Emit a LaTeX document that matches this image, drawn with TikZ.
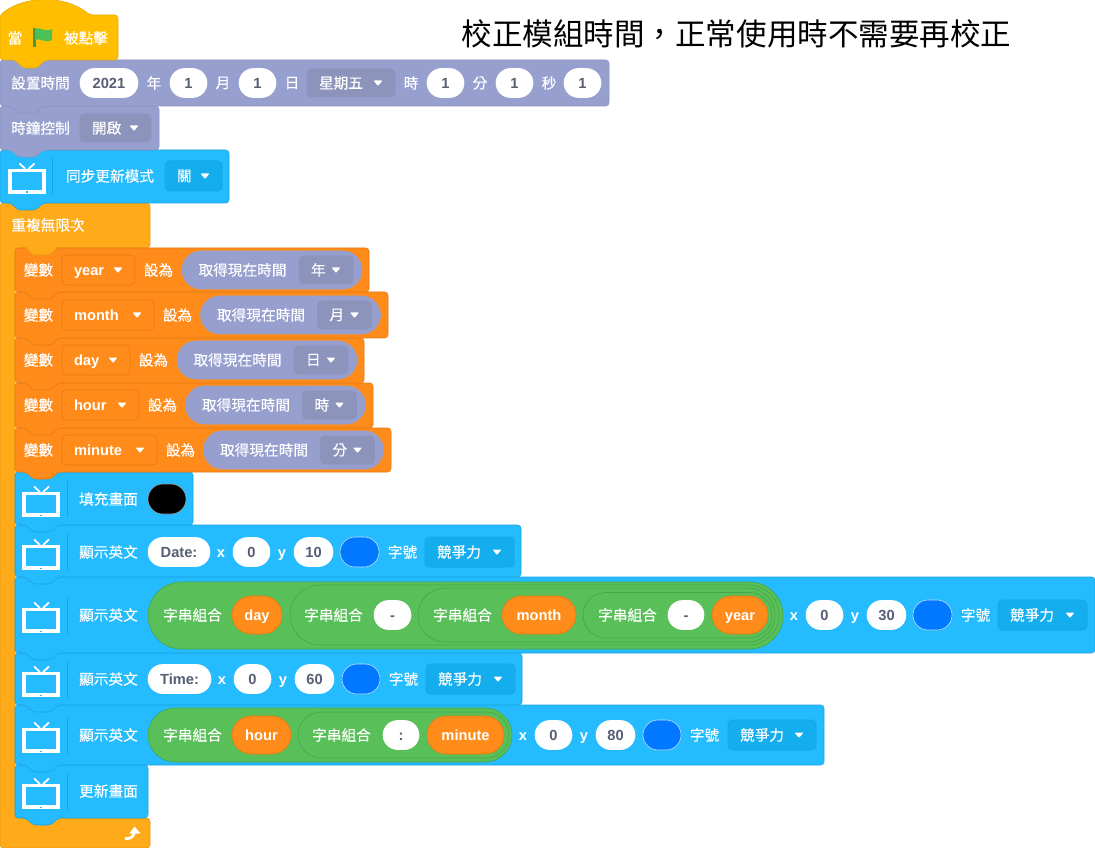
\documentclass[tikz,border=0pt]{standalone}
\usepackage{fontspec}
\newfontfamily\cjk{Noto Sans CJK TC}
\newfontfamily\cjkb[FakeBold=0.25]{Noto Sans CJK TC}
\newfontfamily\lat{Liberation Sans}
\definecolor{hatc}{HTML}{FFBF00}\definecolor{hats}{HTML}{E6AC00}
\definecolor{purp}{HTML}{979FCF}\definecolor{purd}{HTML}{8C94BC}\definecolor{purs}{HTML}{8C94C4}
\definecolor{blu}{HTML}{24BBFF}\definecolor{blud}{HTML}{14ADEE}\definecolor{blus}{HTML}{1AA5E0}
\definecolor{loopc}{HTML}{FFAB19}\definecolor{loops}{HTML}{E89A14}
\definecolor{org}{HTML}{FF8C1A}\definecolor{orgs}{HTML}{E57A0F}
\definecolor{grn}{HTML}{59C059}\definecolor{grns}{HTML}{46A546}
\definecolor{ftxt}{HTML}{575E75}\definecolor{pick}{HTML}{0078FF}\definecolor{flagc}{HTML}{4CBF56}\definecolor{flags}{HTML}{45993D}
\newcounter{nd}
\tikzset{
 txt/.style={inner sep=0pt,outer sep=0pt,text=white,font=\fontsize{11}{13}\cjkb},
 ltxt/.style={inner sep=0pt,outer sep=0pt,text=white,text height=7.9pt,text depth=0pt,font=\fontsize{11}{13}\lat\bfseries},
 ftx/.style={inner sep=0pt,outer sep=0pt,text=ftxt,text height=7.9pt,text depth=0pt,font=\fontsize{11}{13}\lat\bfseries},
 edge/.style={line width=.45pt,rounded corners=2.5pt},
}
% fill stroke x1 y1 x2 y2
\newcommand\blk[6]{\draw[edge,fill=#1,draw=#2] (#3,#4) -- (#5,#4) -- (#5,#6) -- ({#3+43},#6) -- ({#3+36},{#6+7}) -- ({#3+18},{#6+7}) -- ({#3+11},#6) -- (#3,#6) -- cycle;}
% text x1 x2 y text
\newcommand\wt[4]{\stepcounter{nd}\node[txt] (n\arabic{nd}) at ({(#1+#2)/2},#3) {#4};}
\newcommand\wl[4]{\stepcounter{nd}\node[ltxt] (n\arabic{nd}) at ({(#1+#2)/2},#3) {#4};}
% pill fill stroke x1 y1 x2 y2
\newcommand\pill[6]{\pgfmathsetmacro\rr{((#6)-(#4))*0.375}\draw[line width=.45pt,fill=#1,draw=#2,rounded corners=\rr pt] (#3,{#4}) rectangle (#5,{#6});}
% white field x1 x2 y text
\newcommand\fld[4]{\pill{white}{white}{#1}{#3-14.5}{#2}{#3+14.5}\stepcounter{nd}\node[ftx] (n\arabic{nd}) at ({(#1+#2)/2},#3) {#4};}
% orange variable pill x1 x2 y text
\newcommand\ovar[4]{\pill{org}{orgs}{#1}{#3-19}{#2}{#3+19}\wl{#1}{#2}{#3}{#4}}
\newcommand\colr[3]{\pill{pick}{white!75!pick}{#1}{#3-15}{#2}{#3+15}}
% dropdown fill stroke x1 x2 y halfh textstyle text
\newcommand\dd[8]{\draw[line width=.45pt,fill=#1,draw=#2,rounded corners=3pt] ({#3},{#5-#6}) rectangle ({#4},{#5+#6});
 \stepcounter{nd}\node[#7,anchor=west] (n\arabic{nd}) at ({#3+12},#5) {#8};
 \fill[white,rounded corners=.6pt] ({#4-21.5},{#5-2.5}) -- ({#4-12.5},{#5-2.5}) -- ({#4-17},{#5+3}) -- cycle;}
% tv icon: x (left) y (text centre)
\newcommand\tv[3]{\draw[white,line width=1.3pt] ({#1+18},{#2-7}) -- ({#1+12},{#2-12.5}) ({#1+21},{#2-7}) -- ({#1+27},{#2-12.5});
 \fill[white] (#1,{#2-7}) rectangle ({#1+38},{#2+18.3});
 \fill[#3] ({#1+4},{#2-4}) rectangle ({#1+34},{#2+14.3});
 \fill[#3] ({#1+18},{#2+15.5}) rectangle ({#1+20},{#2+17});
 \draw[blus,line width=.35pt] ({#1+45},{#2-18}) -- ({#1+45},{#2+18.5});}
% variable row y name ddright wordx repx unit
\newcommand\varrow[6]{\wt{24}{53}{#1}{變數}
 \dd{org}{orgs}{62}{#3}{#1}{15}{ltxt}{#2}
 \wt{#4}{#4+29}{#1}{設為}
 \pill{purp}{purp}{#5}{#1-19}{#5+180}{#1+19}
 \wt{#5+16}{#5+105}{#1}{取得現在時間}
 \dd{purd}{purd}{#5+117}{#5+171}{#1}{14}{txt}{#6}}
\begin{document}
\begin{tikzpicture}[x=0.75pt,y=-0.75pt]
\useasboundingbox (0,0) rectangle (1095,848);
% loop C-shape
\draw[edge,fill=loopc,draw=loops] (0,203) -- (150,203) -- (150,248) -- (15,248) -- (15,818) -- (150,818) -- (150,848) -- (0,848) -- cycle;
% inner stack, bottom up
\blk{blu}{blus}{15}{765}{148}{818}
\blk{blu}{blus}{15}{705}{824}{765}
\blk{blu}{blus}{15}{653}{522}{705}
\blk{blu}{blus}{15}{577}{1095}{653}
\blk{blu}{blus}{15}{525}{521}{577}
\blk{blu}{blus}{15}{472}{193}{525}
\blk{org}{orgs}{15}{428}{391}{472}
\blk{org}{orgs}{15}{383}{373}{428}
\blk{org}{orgs}{15}{338}{364}{383}
\blk{org}{orgs}{15}{292}{388}{338}
\blk{org}{orgs}{15}{248}{369}{292}
% loop tab over first inner block
\fill[loopc] (25,246) -- (33,255) -- (50,255) -- (58,246) -- cycle;
\draw[edge,draw=loops] (25,248) -- (33,255) -- (50,255) -- (58,248);
% outer stack, bottom up
\blk{blu}{blus}{0}{150}{229}{203}
\blk{purp}{purs}{0}{106}{159}{150}
\blk{purp}{purs}{0}{60}{609}{106}
\draw[edge,fill=hatc,draw=hats] (0,15) .. controls (25,-5) and (65,-5) .. (90,15) -- (118,15) -- (118,60) -- (45,60) -- (37,68) -- (23,68) -- (15,60) -- (0,60) -- cycle;
% hat
\wt{8}{22}{38}{當}
\draw[flags,line width=1.6pt] (34.5,28) -- (34.5,47);
\fill[flagc] (35,29) .. controls (40,26) and (44,33) .. (52,29) -- (52,40) .. controls (44,44) and (40,37) .. (35,40) -- cycle;
\wt{64}{108}{38}{被點擊}
% set time
\wt{11}{70}{83}{設置時間}
\fld{80}{138}{83}{2021}
\wt{147}{161}{83}{年}
\fld{170}{207}{83}{1}
\wt{216}{230}{83}{月}
\fld{239}{276}{83}{1}
\wt{285}{299}{83}{日}
\dd{purd}{purd}{307}{395}{83}{14}{txt}{星期五}
\wt{404}{418}{83}{時}
\fld{427}{464}{83}{1}
\wt{473}{487}{83}{分}
\fld{496}{533}{83}{1}
\wt{542}{556}{83}{秒}
\fld{564}{601}{83}{1}
% clock
\wt{11}{70}{128}{時鐘控制}
\dd{purd}{purd}{80}{151}{128}{14}{txt}{開啟}
% sync
\tv{7.5}{176}{blu}
\wt{65}{155}{176}{同步更新模式}
\dd{blud}{blus}{165}{222}{176}{15}{txt}{關}
% loop
\wt{11}{85}{225}{重複無限次}
\draw[white,line width=2pt] (125,838.5) .. controls (130,839.5) and (134.5,836.5) .. (134.5,831);
\fill[white] (134.5,826.5) -- (140.5,833.5) -- (129.5,833.5) -- cycle;
% variables
\varrow{270}{year}{135}{144}{182}{年}
\varrow{315}{month}{154}{163}{200.5}{月}
\varrow{360}{day}{130}{139}{177}{日}
\varrow{405}{hour}{139}{148}{185.5}{時}
\varrow{450}{minute}{157}{166}{203.5}{分}
% fill screen
\tv{22}{499}{blu}
\wt{79}{138}{499}{填充畫面}
\pill{black}{white!60!black}{148}{484}{186}{514}
% date
\tv{22}{552}{blu}
\wt{79}{138}{552}{顯示英文}
\fld{148}{210}{552}{Date:}
\wl{217}{225}{552}{x}
\fld{233}{270}{552}{0}
\wl{278}{286}{552}{y}
\fld{294}{333}{552}{10}
\colr{340}{379}{552}
\wt{388}{417}{552}{字號}
\dd{blud}{blus}{425}{514}{552}{15}{txt}{競爭力}
% date value
\tv{22}{615}{blu}
\wt{79}{138}{615}{顯示英文}
\pill{grn}{grns}{148}{582}{783}{649}
\wt{163}{222}{615}{字串組合}
\ovar{232}{282}{615}{day}
\pill{grn}{grns}{290}{585}{779}{645}
\wt{304}{363}{615}{字串組合}
\fld{374}{411}{615}{-}
\pill{grn}{grns}{418}{588}{775}{642}
\wt{433}{492}{615}{字串組合}
\ovar{502}{576}{615}{month}
\pill{grn}{grns}{583}{592.5}{772}{638}
\wt{598}{657}{615}{字串組合}
\fld{668}{704}{615}{-}
\ovar{712}{768}{615}{year}
\wl{790}{798}{615}{x}
\fld{806}{843}{615}{0}
\wl{851}{859}{615}{y}
\fld{867}{906}{615}{30}
\colr{913}{952}{615}
\wt{961}{990}{615}{字號}
\dd{blud}{blus}{998}{1087}{615}{15}{txt}{競爭力}
% time
\tv{22}{679}{blu}
\wt{79}{138}{679}{顯示英文}
\fld{148}{211}{679}{Time:}
\wl{218}{226}{679}{x}
\fld{234}{271}{679}{0}
\wl{279}{287}{679}{y}
\fld{295}{334}{679}{60}
\colr{342}{380}{679}
\wt{389}{418}{679}{字號}
\dd{blud}{blus}{426}{515}{679}{15}{txt}{競爭力}
% time value
\tv{22}{735}{blu}
\wt{79}{138}{735}{顯示英文}
\pill{grn}{grns}{148}{708}{512}{762}
\wt{163}{222}{735}{字串組合}
\ovar{232}{291}{735}{hour}
\pill{grn}{grns}{298}{712}{509}{758}
\wt{312}{371}{735}{字串組合}
\fld{383}{419}{735}{:}
\ovar{427}{504}{735}{minute}
\wl{519}{527}{735}{x}
\fld{535}{572}{735}{0}
\wl{580}{588}{735}{y}
\fld{596}{635}{735}{80}
\colr{643}{681}{735}
\wt{690}{719}{735}{字號}
\dd{blud}{blus}{728}{816}{735}{15}{txt}{競爭力}
% refresh
\tv{22}{791}{blu}
\wt{79}{138}{791}{更新畫面}
% title
\node[inner sep=0pt,font=\fontsize{22.9}{26}\cjk,text=black] (title) at (736.5,34) {校正模組時間，正常使用時不需要再校正};
\end{tikzpicture}
\end{document}
